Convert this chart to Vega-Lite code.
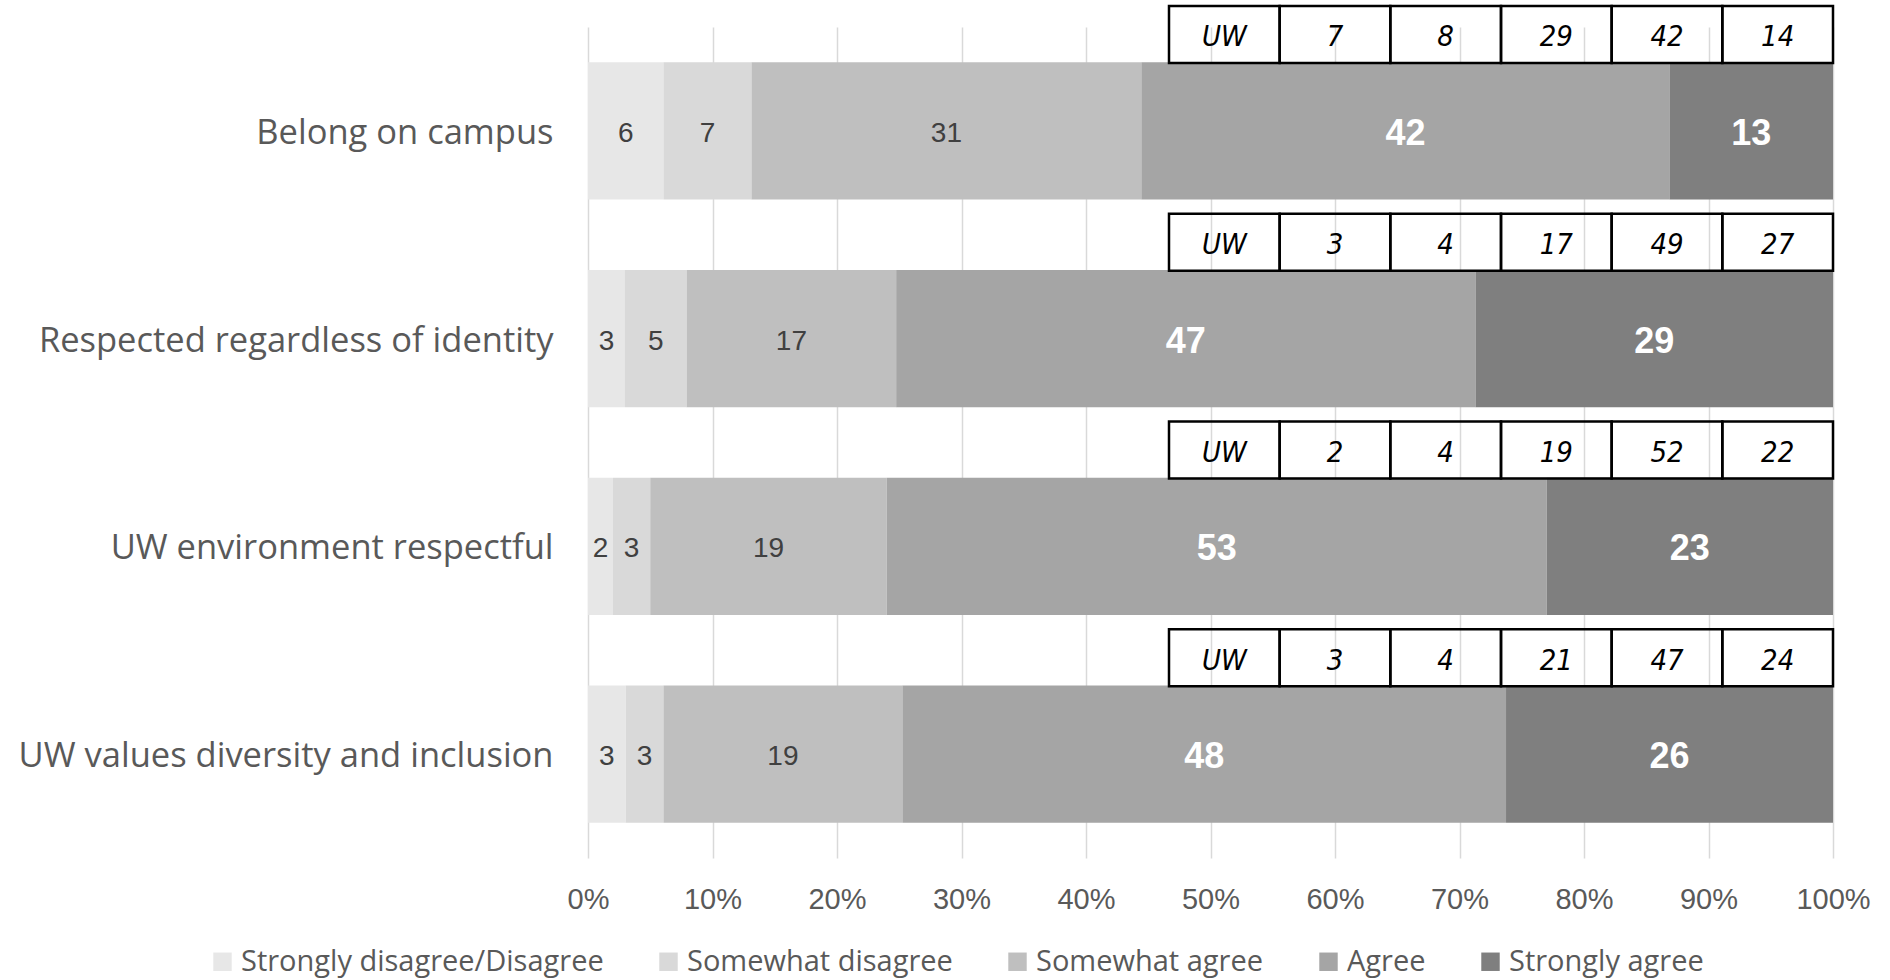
{
  "$schema": "https://vega.github.io/schema/vega-lite/v6.json",
  "autosize": {"type": "none"},
  "width": 1245,
  "height": 831,
  "padding": {"left": 588, "top": 27, "right": 57, "bottom": 122},
  "background": "white",
  "config": {
    "view": {"stroke": null},
    "font": "Liberation Sans"
  },
  "datasets": {
    "survey": [
      {"question": "Belong on campus", "category": "Strongly disagree/Disagree", "level": 1, "value": 6},
      {"question": "Belong on campus", "category": "Somewhat disagree", "level": 2, "value": 7},
      {"question": "Belong on campus", "category": "Somewhat agree", "level": 3, "value": 31},
      {"question": "Belong on campus", "category": "Agree", "level": 4, "value": 42},
      {"question": "Belong on campus", "category": "Strongly agree", "level": 5, "value": 13},
      {"question": "Respected regardless of identity", "category": "Strongly disagree/Disagree", "level": 1, "value": 3},
      {"question": "Respected regardless of identity", "category": "Somewhat disagree", "level": 2, "value": 5},
      {"question": "Respected regardless of identity", "category": "Somewhat agree", "level": 3, "value": 17},
      {"question": "Respected regardless of identity", "category": "Agree", "level": 4, "value": 47},
      {"question": "Respected regardless of identity", "category": "Strongly agree", "level": 5, "value": 29},
      {"question": "UW environment respectful", "category": "Strongly disagree/Disagree", "level": 1, "value": 2},
      {"question": "UW environment respectful", "category": "Somewhat disagree", "level": 2, "value": 3},
      {"question": "UW environment respectful", "category": "Somewhat agree", "level": 3, "value": 19},
      {"question": "UW environment respectful", "category": "Agree", "level": 4, "value": 53},
      {"question": "UW environment respectful", "category": "Strongly agree", "level": 5, "value": 23},
      {"question": "UW values diversity and inclusion", "category": "Strongly disagree/Disagree", "level": 1, "value": 3},
      {"question": "UW values diversity and inclusion", "category": "Somewhat disagree", "level": 2, "value": 3},
      {"question": "UW values diversity and inclusion", "category": "Somewhat agree", "level": 3, "value": 19},
      {"question": "UW values diversity and inclusion", "category": "Agree", "level": 4, "value": 48},
      {"question": "UW values diversity and inclusion", "category": "Strongly agree", "level": 5, "value": 26}
    ],
    "uw": [
      {"question": "Belong on campus", "col": "UW", "label": "UW"},
      {"question": "Belong on campus", "col": "Strongly disagree/Disagree", "label": "7"},
      {"question": "Belong on campus", "col": "Somewhat disagree", "label": "8"},
      {"question": "Belong on campus", "col": "Somewhat agree", "label": "29"},
      {"question": "Belong on campus", "col": "Agree", "label": "42"},
      {"question": "Belong on campus", "col": "Strongly agree", "label": "14"},
      {"question": "Respected regardless of identity", "col": "UW", "label": "UW"},
      {"question": "Respected regardless of identity", "col": "Strongly disagree/Disagree", "label": "3"},
      {"question": "Respected regardless of identity", "col": "Somewhat disagree", "label": "4"},
      {"question": "Respected regardless of identity", "col": "Somewhat agree", "label": "17"},
      {"question": "Respected regardless of identity", "col": "Agree", "label": "49"},
      {"question": "Respected regardless of identity", "col": "Strongly agree", "label": "27"},
      {"question": "UW environment respectful", "col": "UW", "label": "UW"},
      {"question": "UW environment respectful", "col": "Strongly disagree/Disagree", "label": "2"},
      {"question": "UW environment respectful", "col": "Somewhat disagree", "label": "4"},
      {"question": "UW environment respectful", "col": "Somewhat agree", "label": "19"},
      {"question": "UW environment respectful", "col": "Agree", "label": "52"},
      {"question": "UW environment respectful", "col": "Strongly agree", "label": "22"},
      {"question": "UW values diversity and inclusion", "col": "UW", "label": "UW"},
      {"question": "UW values diversity and inclusion", "col": "Strongly disagree/Disagree", "label": "3"},
      {"question": "UW values diversity and inclusion", "col": "Somewhat disagree", "label": "4"},
      {"question": "UW values diversity and inclusion", "col": "Somewhat agree", "label": "21"},
      {"question": "UW values diversity and inclusion", "col": "Agree", "label": "47"},
      {"question": "UW values diversity and inclusion", "col": "Strongly agree", "label": "24"}
    ]
  },
  "resolve": {"scale": {"x": "independent"}, "axis": {"x": "independent"}},
  "layer": [
    {
      "data": {"name": "survey"},
      "encoding": {
        "y": {
          "field": "question", "type": "nominal",
          "scale": {"domain": ["Belong on campus", "Respected regardless of identity", "UW environment respectful", "UW values diversity and inclusion"], "paddingInner": 0.34, "paddingOuter": 0.17},
          "axis": {"title": null, "domain": false, "ticks": false, "labelFont": "Open Sans", "labelFontSize": 34.5, "labelColor": "#595959", "labelPadding": 35, "labelOffset": 3, "labelLimit": 700}
        },
        "x": {
          "field": "value", "type": "quantitative", "stack": "normalize",
          "scale": {"domain": [0, 1]},
          "axis": {"title": null, "format": ".0%", "values": [0, 0.1, 0.2, 0.3, 0.4, 0.5, 0.6, 0.7, 0.8, 0.9, 1], "domain": false, "ticks": false, "grid": true, "gridColor": "#d9d9d9", "gridWidth": 1.5, "labelFlush": false, "labelFont": "Liberation Sans", "labelFontSize": 29, "labelColor": "#595959", "labelPadding": 27}
        },
        "order": {"field": "level", "type": "quantitative"}
      },
      "layer": [
        {
          "mark": {"type": "bar"},
          "encoding": {
            "color": {
              "field": "category", "type": "nominal",
              "scale": {"domain": ["Strongly disagree/Disagree", "Somewhat disagree", "Somewhat agree", "Agree", "Strongly agree"], "range": ["#e7e7e7", "#d9d9d9", "#bfbfbf", "#a5a5a5", "#7f7f7f"]},
              "legend": {"title": null, "orient": "none", "direction": "horizontal", "legendX": -380, "legendY": 920, "symbolType": "square", "symbolSize": 340, "symbolStrokeWidth": 0, "labelFont": "Open Sans", "labelFontSize": 29, "labelColor": "#595959", "labelOffset": 4, "columnPadding": 50, "labelLimit": 600}
            }
          }
        },
        {
          "mark": {"type": "text", "font": "Liberation Sans", "fontSize": 28, "color": "#404040", "baseline": "middle", "dy": 3},
          "encoding": {
            "x": {"field": "value", "type": "quantitative", "stack": "normalize", "bandPosition": 0.5},
            "detail": {"field": "category"},
            "text": {"field": "value", "type": "quantitative"},
            "opacity": {"condition": {"test": "datum.level <= 3", "value": 1}, "value": 0}
          }
        },
        {
          "mark": {"type": "text", "font": "Liberation Sans", "fontSize": 36, "fontWeight": "bold", "color": "white", "baseline": "middle", "dy": 3},
          "encoding": {
            "x": {"field": "value", "type": "quantitative", "stack": "normalize", "bandPosition": 0.5},
            "detail": {"field": "category"},
            "text": {"field": "value", "type": "quantitative"},
            "opacity": {"condition": {"test": "datum.level >= 4", "value": 1}, "value": 0}
          }
        }
      ]
    },
    {
      "data": {"name": "uw"},
      "encoding": {
        "y": {"field": "question", "type": "nominal"},
        "x": {
          "field": "col", "type": "nominal",
          "scale": {"type": "band", "domain": ["UW", "Strongly disagree/Disagree", "Somewhat disagree", "Somewhat agree", "Agree", "Strongly agree"], "range": [581, 1245], "paddingInner": 0, "paddingOuter": 0},
          "axis": null
        }
      },
      "layer": [
        {
          "mark": {"type": "rect", "fill": "transparent", "stroke": "black", "strokeWidth": 2.5, "height": 57, "yOffset": -96.5}
        },
        {
          "mark": {"type": "text", "font": "'DejaVu Sans Condensed', 'Liberation Sans'", "fontStyle": "italic", "fontSize": 29, "color": "black", "baseline": "middle", "yOffset": -96.5, "dy": 3},
          "encoding": {
            "x": {"field": "col", "type": "nominal", "bandPosition": 0.5},
            "text": {"field": "label", "type": "nominal"}
          }
        }
      ]
    }
  ]
}
